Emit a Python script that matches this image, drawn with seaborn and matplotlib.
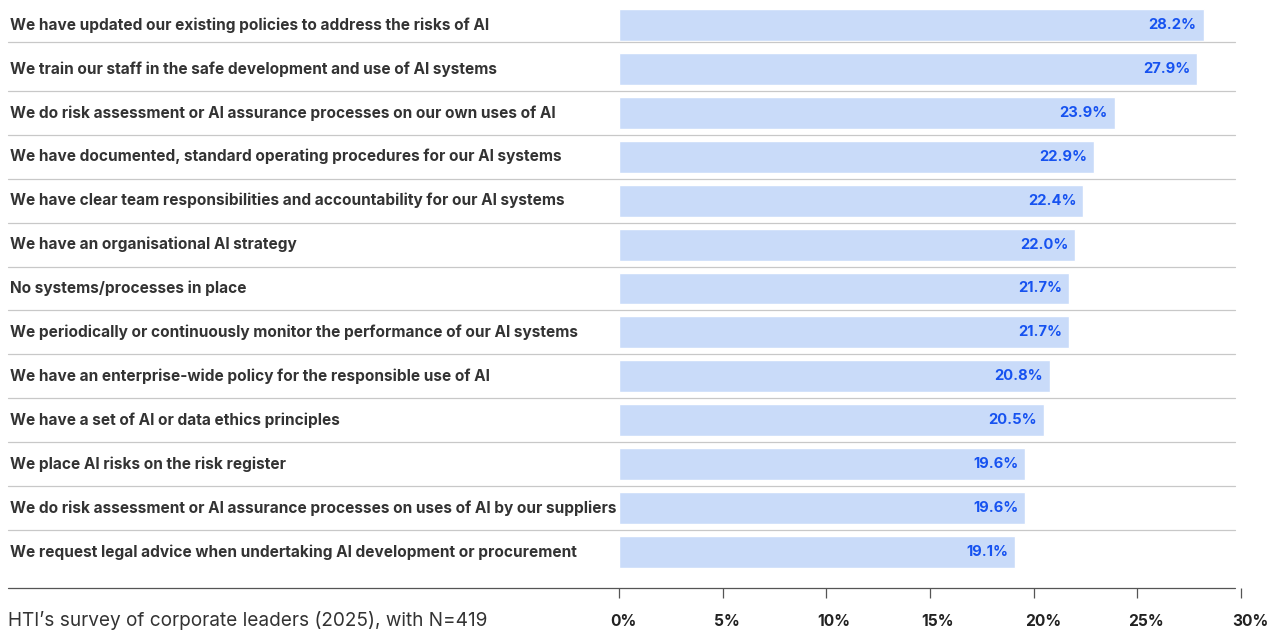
import seaborn as sns
import matplotlib.pyplot as plt
import matplotlib.transforms as mtransforms
import pandas as pd

# ---- data ----
practices = [
    "We have updated our existing policies to address the risks of AI",
    "We train our staff in the safe development and use of AI systems",
    "We do risk assessment or AI assurance processes on our own uses of AI",
    "We have documented, standard operating procedures for our AI systems",
    "We have clear team responsibilities and accountability for our AI systems",
    "We have an organisational AI strategy",
    "No systems/processes in place",
    "We periodically or continuously monitor the performance of our AI systems",
    "We have an enterprise-wide policy for the responsible use of AI",
    "We have a set of AI or data ethics principles",
    "We place AI risks on the risk register",
    "We do risk assessment or AI assurance processes on uses of AI by our suppliers",
    "We request legal advice when undertaking AI development or procurement",
]
shares = [28.2, 27.9, 23.9, 22.9, 22.4, 22.0, 21.7, 21.7, 20.8, 20.5, 19.6, 19.6, 19.1]
tick_values = [0, 5, 10, 15, 20, 25, 30]
tick_labels = ["0%", "5%", "10%", "15%", "20%", "25%", "30%"]
source_note = "HTI\u2019s survey of corporate leaders (2025), with N=419"

df = pd.DataFrame({"practice": practices, "share": shares})

sns.set_theme(style="white")
plt.rcParams["font.family"] = ["Inter", "DejaVu Sans"]

W, H = 1268, 632
fig = plt.figure(figsize=(W / 100, H / 100), dpi=100)
ax = fig.add_axes([619 / W, (H - 588) / H, (1241 - 619) / W, (588 - 3) / H])

sns.barplot(data=df, y="practice", x="share", orient="h", color="#c9dbf9",
            saturation=1, width=32 / 44, ax=ax)

ax.set_xlim(0, 30)
ax.set_ylim(12.82, -0.5)
ax.set_xlabel("")
ax.set_ylabel("")
ax.set_yticks([])
for s in ax.spines.values():
    s.set_visible(False)

# labels on the far left
lt = mtransforms.blended_transform_factory(fig.transFigure, ax.transData)
for i, name in enumerate(practices):
    ax.text(10 / W, i, name, transform=lt, ha="left", va="center",
            fontsize=11.1, fontweight="bold", color="#333333")

# separators between rows + bottom axis line
for i in range(len(practices) - 1):
    y = i + 0.5 if i > 0 else 0.39
    ax.plot([8 / W, 1235 / W], [y, y], transform=lt, clip_on=False,
            color="#c8c8c8", lw=0.9)
ax.plot([8 / W, 1235 / W], [12.82, 12.82], transform=lt, clip_on=False,
        color="#555555", lw=0.9)

# value labels inside the bar ends
for i, v in enumerate(shares):
    ax.annotate(f"{v:.1f}%", (v, i), xytext=(-5, 0), textcoords="offset points",
                ha="right", va="center", fontsize=10.6, fontweight="bold",
                color="#1652f0")

ax.set_xticks(tick_values)
ax.set_xticklabels(tick_labels)
ax.tick_params(axis="x", bottom=True, direction="out", length=7, width=0.9,
               color="#555555", pad=12, labelsize=11.2, labelcolor="#222222")
shift = mtransforms.ScaledTranslation(-9 / 100, 0, fig.dpi_scale_trans)
for lab in ax.get_xticklabels():
    lab.set_fontweight("bold")
    lab.set_horizontalalignment("left")
    lab.set_transform(lab.get_transform() + shift)

fig.text(8 / W, 1 - 621 / H, source_note, ha="left", va="center",
         fontsize=13.7, color="#333333")

fig.savefig("out.png", dpi=100)
